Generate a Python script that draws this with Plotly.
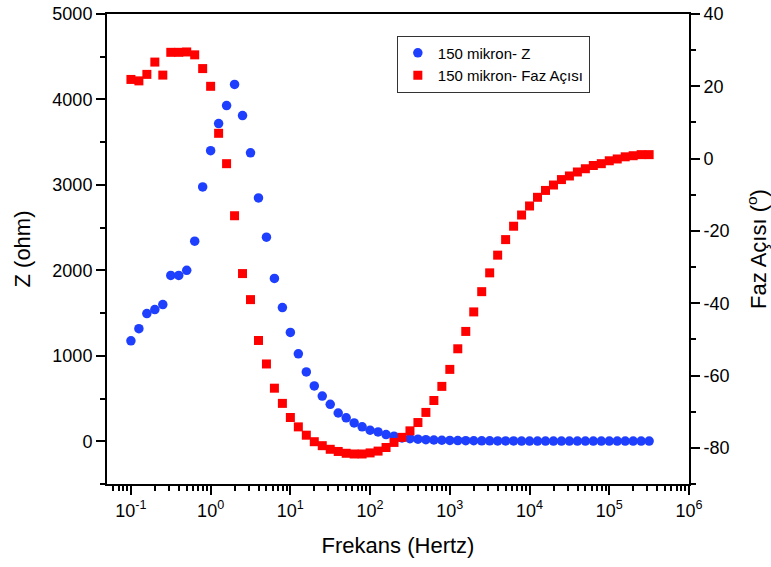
import numpy as np
import plotly.graph_objects as go

# Frequencies: 10 points per decade from 0.1 Hz
freq_exp = [-1 + i / 10 for i in range(66)]
freq = [10 ** e for e in freq_exp]

z_ohm = [1176, 1318, 1494, 1541, 1600, 1941, 1941, 2000, 2341, 2976,
         3400, 3718, 3929, 4176, 3812, 3376, 2847, 2388, 1906, 1565,
         1274, 1024, 812, 647, 529, 432, 331, 274, 215, 169,
         129, 109, 78, 59, 39, 30, 24, 19, 15, 12,
         10, 8, 7, 6, 5, 5, 4, 4, 4, 3,
         3, 3, 3, 3, 2, 2, 2, 2, 2, 2,
         2, 2, 2, 2, 2, 2]

phase_deg = [21.9, 21.5, 23.3, 26.7, 23.1, 29.4, 29.4, 29.5, 28.7, 24.9,
             20.0, 7.0, -1.4, -15.8, -31.8, -39.0, -50.3, -56.8, -63.5, -67.7,
             -71.6, -74.2, -76.5, -78.3, -79.4, -80.4, -81.0, -81.5, -81.7, -81.7,
             -81.4, -80.9, -79.9, -78.5, -77.1, -75.3, -73.0, -70.2, -66.9, -63.0,
             -58.3, -52.6, -47.8, -42.4, -36.8, -31.6, -26.7, -22.4, -18.7, -15.6,
             -13.1, -10.7, -8.8, -7.3, -5.8, -4.8, -3.7, -2.8, -1.9, -1.4,
             -0.6, -0.1, 0.5, 0.8, 1.1, 1.1]

x_tickvals = [1e-1, 1e0, 1e1, 1e2, 1e3, 1e4, 1e5, 1e6]
x_ticktext = ["10<sup>-1</sup>", "10<sup>0</sup>", "10<sup>1</sup>", "10<sup>2</sup>",
              "10<sup>3</sup>", "10<sup>4</sup>", "10<sup>5</sup>", "10<sup>6</sup>"]
x_minor = [m * 10 ** d for d in range(-2, 6) for m in range(2, 10)]

z_tickvals = [0, 1000, 2000, 3000, 4000, 5000]
phase_tickvals = [-80, -60, -40, -20, 0, 20, 40]
phase_ticktext = ["-80", "-60", "-40", "-20", "0", "20", "40"]

FONT = "Liberation Sans, Arial, sans-serif"
TICKFONT = dict(family=FONT, size=18, color="black")
TITLEFONT = dict(family=FONT, size=22, color="black")

fig = go.Figure()
fig.add_trace(go.Scatter(
    x=freq, y=z_ohm, mode="markers", name="150 mikron- Z",
    marker=dict(symbol="circle", size=9.5, color="#1f3fff"),
    yaxis="y"))
fig.add_trace(go.Scatter(
    x=freq, y=phase_deg, mode="markers", name="150 mikron- Faz Açısı",
    marker=dict(symbol="square", size=9, color="#ff0000"),
    yaxis="y2"))

axis_common = dict(showgrid=False, zeroline=False, showline=True, linecolor="black",
                   linewidth=2, ticks="outside", tickcolor="black", tickwidth=2,
                   ticklen=9, tickfont=TICKFONT, automargin=False)

fig.update_layout(
    width=771, height=567,
    margin=dict(l=107, r=82, t=14, b=83),
    paper_bgcolor="white", plot_bgcolor="white",
    font=dict(family=FONT, color="black"),
    showlegend=True,
    legend=dict(x=0.498, y=0.954, xanchor="left", yanchor="top",
                bgcolor="white", bordercolor="#333333", borderwidth=1,
                font=dict(family=FONT, size=15, color="black"),
                tracegroupgap=0, itemwidth=30),
    xaxis=dict(type="log", range=[-1.3, 6], tickvals=x_tickvals, ticktext=x_ticktext,
               mirror=True,
               minor=dict(tickvals=x_minor, ticks="outside", ticklen=5, tickcolor="black",
                          tickwidth=1.5),
               title=dict(text="Frekans (Hertz)", font=TITLEFONT, standoff=18),
               **axis_common),
    yaxis=dict(range=[-500, 5000], tickvals=z_tickvals,
               minor=dict(dtick=500, ticks="outside", ticklen=5, tickcolor="black",
                          tickwidth=2),
               title=dict(text="Z (ohm)", font=TITLEFONT, standoff=16),
               **axis_common),
    yaxis2=dict(range=[-90, 40], overlaying="y", side="right",
                tickvals=phase_tickvals, ticktext=phase_ticktext,
                minor=dict(dtick=10, ticks="outside", ticklen=5, tickcolor="black",
                           tickwidth=2),
                title=dict(text="Faz Açısı (<sup>o</sup>)", font=TITLEFONT, standoff=22),
                **axis_common),
)

fig.write_html("out.html")
